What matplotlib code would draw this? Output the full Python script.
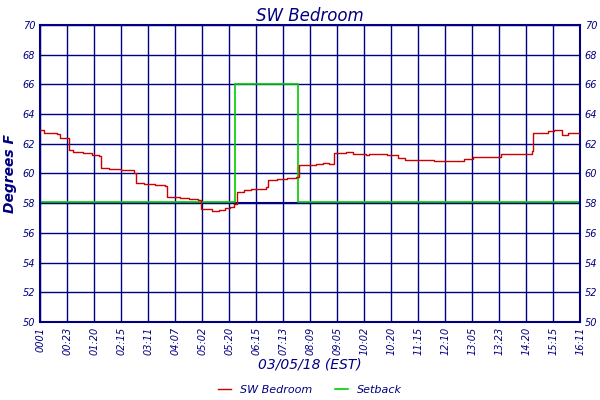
import matplotlib
matplotlib.use("Agg")
import matplotlib.pyplot as plt

TICK_LABELS = ["0001", "00:23", "01:20", "02:15", "03:11", "04:07", "05:02", "05:20", "06:15",
               "07:13", "08:09", "09:05", "10:02", "10:20", "11:15", "12:10", "13:05", "13:23",
               "14:20", "15:15", "16:11"]

# temperature readings (x in tick-index units)
temp_x = [0.0, 0.16, 0.62, 0.75, 1.02, 1.06, 1.22, 1.61, 1.94, 2.17, 2.24, 2.54, 3.00, 3.37,
          3.47, 3.57, 3.86, 4.26, 4.63, 4.70, 5.19, 5.52, 5.85, 5.98, 6.38, 6.64, 6.84, 7.04,
          7.17, 7.28, 7.57, 7.83, 8.16, 8.36, 8.43, 8.76, 9.15, 9.48, 9.58, 9.95, 10.21, 10.48,
          10.71, 10.87, 11.34, 11.60, 12.06, 12.20, 12.86, 13.25, 13.52, 14.58, 15.37, 15.70,
          16.03, 17.02, 17.09, 17.75, 18.22, 18.25, 18.81, 19.05, 19.34, 19.54, 20.0]
temp_y = [62.92, 62.74, 62.67, 62.40, 62.36, 61.58, 61.46, 61.35, 61.26, 61.17, 60.39, 60.32,
          60.23, 60.21, 60.01, 59.39, 59.27, 59.21, 59.16, 58.45, 58.38, 58.31, 58.20, 57.60,
          57.49, 57.55, 57.71, 57.75, 57.93, 58.76, 58.87, 58.94, 58.98, 59.12, 59.56, 59.61,
          59.70, 59.74, 60.59, 60.57, 60.64, 60.73, 60.64, 61.40, 61.46, 61.31, 61.22, 61.31,
          61.22, 61.06, 60.93, 60.86, 60.86, 60.95, 61.11, 61.11, 61.31, 61.31, 61.51, 62.74,
          62.85, 62.96, 62.56, 62.74, 62.74]

setback_x = [0.0, 7.22, 7.22, 9.56, 9.56, 20.0]
setback_y = [58.05, 58.05, 66.0, 66.0, 58.05, 58.05]

NAVY = "#000080"
fig = plt.figure(figsize=(6, 4), dpi=100)
ax = fig.add_axes([0.0667, 0.195, 0.9, 0.7425])
font = dict(color=NAVY, style="italic")

ax.set_xlim(0, 20)
ax.set_ylim(50, 70)
ax.set_xticks(range(len(TICK_LABELS)))
ax.set_xticklabels(TICK_LABELS, rotation=90, fontsize=7, **font)
ax.set_yticks(range(50, 71, 2))
ax.tick_params(axis="y", labelsize=7, labelcolor=NAVY, right=True, labelright=True, length=0)
ax.tick_params(axis="x", length=0, labelcolor=NAVY)
for lbl in ax.get_yticklabels():
    lbl.set_style("italic")
ax.set_axisbelow(True)
ax.grid(True, color=NAVY, linewidth=1)
ax.axhline(58, color=NAVY, linewidth=1.5, zorder=1)
for s in ax.spines.values():
    s.set_color(NAVY)
    s.set_linewidth(1.5)

ax.step(temp_x, temp_y, where="post", color="#cc0000", linewidth=1, label="SW Bedroom", zorder=3)
ax.plot(setback_x, setback_y, color="#00cc00", linewidth=1.2, label="Setback", zorder=2)

ax.set_title("SW Bedroom", fontsize=12, pad=3, **font)
ax.set_xlabel("03/05/18 (EST)", fontsize=10, labelpad=2, **font)
ax.set_ylabel("Degrees F", fontsize=10, fontweight="bold", labelpad=4, **font)

leg = ax.legend(loc="upper center", bbox_to_anchor=(0.5, -0.185), ncol=2, frameon=False,
                fontsize=8, handlelength=1.2, columnspacing=2, borderpad=0.2)
for t in leg.get_texts():
    t.set_color(NAVY)
    t.set_style("italic")

fig.savefig("out.png", dpi=100, facecolor="white")
